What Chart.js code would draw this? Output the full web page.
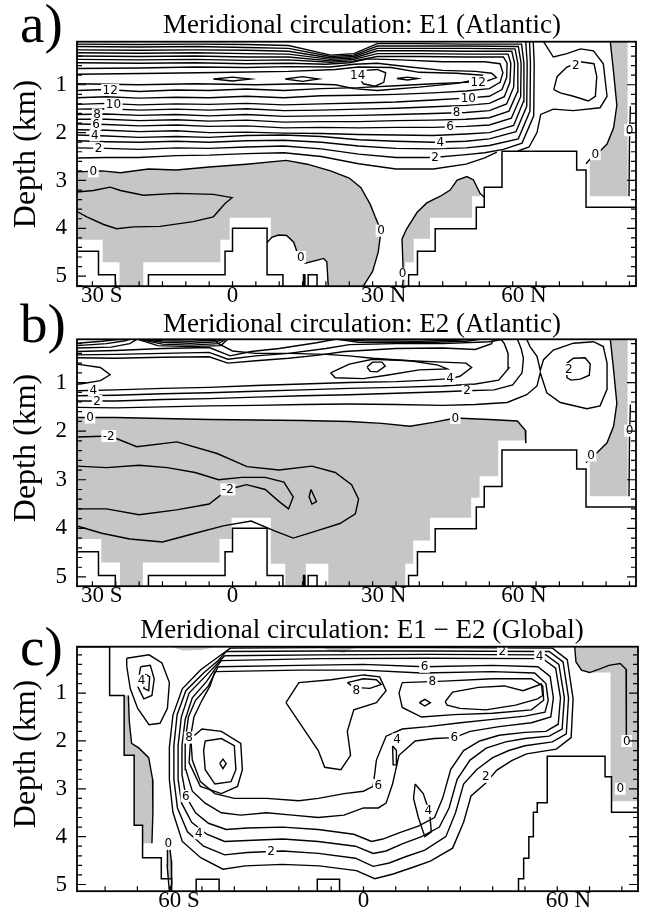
<!DOCTYPE html>
<html>
<head>
<meta charset="utf-8">
<title>Meridional circulation</title>
<script src="https://cdn.jsdelivr.net/npm/chart.js@4.4.1/dist/chart.umd.min.js"></script>
<style>
  html, body { margin: 0; padding: 0; background: #fff; }
  body { position: relative; width: 648px; height: 915px; overflow: hidden; }
  canvas { position: absolute; left: 0; }
</style>
</head>
<body>
<canvas id="panelA" width="648" height="310" style="top:0px"></canvas>
<canvas id="panelB" width="648" height="310" style="top:300px"></canvas>
<canvas id="panelC" width="648" height="315" style="top:600px"></canvas>
<script>
// fonts
const SERIF = '"Liberation Serif", "Times New Roman", serif';
const SANS = '"DejaVu Sans", sans-serif';

// axes / texts
const depthTicks = [1, 2, 3, 4, 5];
const latTicksAtl = [-30, 0, 30, 60];
const latLabelsAtl = [['30', ' S'], ['0', ''], ['30', ' N'], ['60', ' N']];
const latTicksGlo = [-60, 0, 60];
const latLabelsGlo = [['60', ' S'], ['0', ''], ['60', ' N']];
const panelLetters = ['a)', 'b)', 'c)'];
const panelTitles = [
  'Meridional circulation: E1 (Atlantic)',
  'Meridional circulation: E2 (Atlantic)',
  'Meridional circulation: E1 \u2212 E2 (Global)'
];

// ---- bathymetry (lat, depth km) ----
const landAtl = [[-33.3,4.48],[-28.7,4.48],[-28.7,4.97],[-25.1,4.97],[-25.1,5.25],[-18,5.25],[-18,4.97],[-1.6,4.97],[-1.6,4.48],[0,4.48],[0,4.0],[7.4,4.0],[7.4,4.97],[10.8,4.97],[10.8,5.25],[15.2,5.25],[15.2,4.97],[15.5,4.97],[15.5,5.25],[16.2,5.25],[16.2,4.97],[18.1,4.97],[18.1,5.25],[37.7,5.25],[37.7,4.97],[39.6,4.97],[39.6,4.48],[43.4,4.48],[43.4,4.01],[52.2,4.01],[52.2,3.56],[53.9,3.56],[53.9,3.14],[57.7,3.14],[57.7,2.39],[73.7,2.39],[73.7,2.78],[75.7,2.78],[75.7,3.56],[87,3.56],[87,5.25],[-34,5.25],[-34,4.48]];
const landGloW = [[-89,0.03],[-78.6,0.03],[-78.6,1.05],[-74.1,1.05],[-74.1,2.3],[-71,2.3],[-71,3.76],[-68.4,3.76],[-68.4,4.44],[-62.6,4.44],[-62.6,4.88],[-59.4,4.88],[-59.4,5.2],[-89,5.2],[-89,0.03]];
const landGloE = [[48.0,5.2],[48.0,4.88],[49.6,4.88],[49.6,4.45],[51.2,4.45],[51.2,4.0],[52.6,4.0],[52.6,3.49],[53.8,3.49],[53.8,3.29],[56.9,3.29],[56.9,2.32],[74.8,2.32],[74.8,2.75],[76.8,2.75],[76.8,3.49],[86,3.49],[86,5.2]];
const landGloB1 = [[-51.8,5.2],[-51.8,4.89],[-44.7,4.89],[-44.7,5.2]];
const landGloB2 = [[-14.3,5.2],[-14.3,4.89],[-7.4,4.89],[-7.4,5.2]];

// ---- panel a: E1 Atlantic ----
const grayA1 = [[-33.3,2.82],[-28,2.8],[-24,2.84],[-18,2.76],[-12,2.78],[-5,2.72],[3,2.66],[11.5,2.58],[16,2.66],[21,2.8],[25,2.95],[27.5,3.15],[29.5,3.5],[30.5,3.75],[31.8,4.05],[31.2,4.5],[30,4.9],[28,5.21],[20.5,5.21],[20.2,4.7],[19.5,4.63],[18.4,4.66],[15.6,4.73],[14.4,4.63],[13.8,4.49],[13.1,4.29],[11.6,4.15],[9.9,4.14],[8.4,4.19],[8.2,4.19],[8.2,3.78],[-0.6,3.78],[-0.6,4.24],[-2.6,4.24],[-2.6,4.71],[-19.1,4.71],[-19.1,5.21],[-24.2,5.21],[-24.2,4.71],[-27.8,4.71],[-27.8,4.24],[-33.3,4.24]];
const grayA2 = [[36.4,5.21],[36.6,5.04],[36.3,4.22],[37.3,4.01],[39.5,3.67],[41.6,3.47],[44.5,3.33],[46.6,3.2],[48.1,2.99],[50.2,2.92],[51.6,2.99],[53.0,3.27],[53.0,3.33],[51.3,3.33],[51.3,3.78],[42.3,3.78],[42.3,4.22],[38.8,4.22],[38.8,4.71],[37.0,4.71],[37.0,5.21]];
const grayA3 = [[80.9,0.1],[81.6,0.74],[82.3,1.43],[81.6,1.9],[80.2,2.24],[78.0,2.45],[76.6,2.55],[76.5,2.55],[76.5,3.33],[84.6,3.33],[84.6,0.1]];

const a14 = [[26.8,0.8],[28.5,0.7],[31,0.68],[32.8,0.75],[32.4,0.95],[30.5,1.03],[28,0.98],[26.8,0.8]];
const aLens1 = [[-4.1,0.88],[0,0.84],[3.8,0.88],[0,0.92],[-4.1,0.88]];
const aLens2 = [[11.3,0.88],[15,0.83],[18.4,0.88],[15,0.93],[11.3,0.88]];
const aLens3 = [[35.2,0.87],[37.5,0.84],[39.6,0.87],[37.5,0.9],[35.2,0.87]];
const a13 = [[-33.3,0.98],[-20,1.0],[-8,0.98],[5,1.0],[15,0.98],[22,1.0],[26,1.08],[31,1.12],[40,1.05],[48,0.97],[53,0.88],[53.5,0.8],[48,0.76],[40,0.74],[34,0.64],[27,0.63],[22,0.68],[12,0.72],[0,0.74],[-15,0.76],[-33.3,0.78]];
const a12 = [[-33.3,1.12],[-27,1.10],[-20,1.14],[-12,1.11],[-5,1.12],[3,1.09],[11,1.12],[19,1.08],[27,1.06],[35,1.02],[43,0.98],[50,0.95],[54.5,0.92],[56.5,0.85],[55.5,0.76],[52,0.72],[45,0.7],[38,0.63],[31,0.55],[26,0.57],[21,0.63],[12,0.62],[3,0.64],[-8,0.63],[-20,0.65],[-33.3,0.66]];
const a11 = [[-33.3,1.27],[-27,1.25],[-20,1.28],[-12,1.26],[-5,1.27],[3,1.24],[11,1.27],[19,1.23],[27,1.22],[35,1.2],[43,1.17],[50,1.13],[55,1.08],[57.3,0.95],[57.9,0.75],[57.3,0.56],[54,0.52],[45,0.52],[36,0.48],[29,0.46],[25,0.54],[20,0.57],[12,0.55],[3,0.56],[-8,0.54],[-20,0.55],[-33.3,0.54]];
const a10 = [[-33.3,1.41],[-27,1.39],[-20,1.42],[-12,1.40],[-5,1.41],[3,1.39],[11,1.42],[19,1.40],[27,1.38],[35,1.36],[43,1.32],[50,1.28],[55,1.24],[57.7,1.1],[58.7,0.85],[58.8,0.55],[58,0.42],[50,0.42],[40,0.41],[31,0.41],[26,0.5],[21,0.53],[12,0.48],[3,0.49],[-8,0.47],[-20,0.48],[-33.3,0.47]];
const a9 = [[-33.3,1.51],[-27,1.50],[-20,1.53],[-12,1.51],[-5,1.53],[3,1.50],[11,1.54],[19,1.53],[27,1.51],[35,1.49],[43,1.46],[50,1.43],[55,1.39],[58.2,1.25],[59.4,0.95],[59.6,0.55],[59,0.36],[50,0.36],[40,0.35],[31,0.35],[26,0.47],[21,0.5],[12,0.42],[3,0.42],[-8,0.40],[-20,0.41],[-33.3,0.40]];
const a8 = [[-33.3,1.62],[-27,1.61],[-20,1.64],[-12,1.62],[-5,1.65],[3,1.62],[11,1.66],[19,1.65],[27,1.64],[35,1.62],[43,1.6],[50,1.58],[55,1.54],[58.7,1.4],[60.2,1.05],[60.4,0.55],[59.8,0.3],[50,0.3],[40,0.29],[31,0.29],[26,0.44],[21,0.47],[12,0.36],[3,0.35],[-8,0.33],[-20,0.34],[-33.3,0.33]];
const a7 = [[-33.3,1.72],[-27,1.72],[-20,1.75],[-12,1.73],[-5,1.76],[3,1.74],[11,1.78],[19,1.77],[27,1.77],[35,1.75],[43,1.74],[50,1.72],[55,1.69],[59.2,1.55],[61,1.15],[61.1,0.55],[60.5,0.25],[50,0.24],[40,0.24],[31,0.24],[26,0.41],[21,0.44],[12,0.3],[3,0.28],[-8,0.27],[-20,0.28],[-33.3,0.27]];
const a6 = [[-33.3,1.82],[-27,1.83],[-20,1.86],[-12,1.84],[-5,1.87],[3,1.86],[11,1.9],[19,1.89],[27,1.9],[35,1.89],[43,1.89],[50,1.87],[55,1.84],[59.7,1.7],[61.7,1.25],[61.8,0.55],[61.2,0.2],[50,0.19],[40,0.19],[31,0.19],[26,0.38],[21,0.41],[12,0.24],[3,0.22],[-8,0.2],[-20,0.21],[-33.3,0.2]];
const a5 = [[-33.3,1.94],[-27,1.95],[-20,1.98],[-12,1.96],[-5,2.0],[3,1.99],[11,2.01],[19,2.02],[27,2.04],[35,2.05],[43,2.06],[50,2.03],[55,2.0],[60.2,1.85],[62.3,1.35],[62.4,0.55],[61.9,0.15],[50,0.15],[40,0.14],[31,0.14],[26,0.35],[21,0.38],[12,0.18],[3,0.16],[-8,0.15],[-20,0.16],[-33.3,0.15]];
const a4 = [[-33.3,2.05],[-27,2.07],[-20,2.1],[-12,2.08],[-5,2.1],[3,2.06],[11,2.05],[19,2.08],[27,2.15],[35,2.18],[43,2.2],[50,2.18],[55,2.13],[60.7,1.98],[63,1.45],[63.1,0.55],[62.8,0.1]];
const a3 = [[-33.3,2.17],[-27,2.19],[-20,2.2],[-12,2.18],[-5,2.2],[3,2.17],[11,2.16],[19,2.2],[27,2.28],[35,2.33],[43,2.34],[50,2.32],[55,2.27],[61.2,2.13],[63.7,1.55],[63.8,0.55],[63.6,0.1]];
const a2 = [[-33.3,2.32],[-27,2.33],[-20,2.35],[-12,2.32],[-5,2.33],[3,2.3],[11,2.28],[19,2.34],[27,2.45],[35,2.52],[43,2.52],[50,2.46],[54,2.42],[58,2.35],[62,2.22],[64.5,1.65],[64.6,0.55],[64.4,0.1]];
const a1 = [[-33.3,2.53],[-27,2.52],[-20,2.52],[-12,2.48],[-5,2.47],[3,2.44],[11,2.42],[19,2.5],[27,2.65],[35,2.76],[43,2.76],[50,2.66],[54,2.53],[56.6,2.41]];
const a1b = [[66.6,0.1],[68.7,0.42],[71.6,0.35],[74.5,0.25],[77.3,0.29],[79.4,0.56],[80.2,1.24],[78.7,1.48],[73,1.54],[68.7,1.51],[66,1.62],[65.2,2.0],[63.5,2.3],[61,2.39]];
const a2loop = [[68.8,1.10],[69.5,0.83],[71.6,0.63],[74.5,0.52],[77.4,0.56],[78.0,0.83],[77.7,1.24],[76.2,1.34],[73.0,1.24],[70.2,1.17],[68.8,1.10]];
const a0main = [[-33.3,2.82],[-28,2.8],[-24,2.84],[-18,2.76],[-12,2.78],[-5,2.72],[3,2.66],[11.5,2.58],[16,2.66],[21,2.8],[25,2.95],[27.5,3.15],[29.5,3.5],[30.5,3.75],[31.8,4.05],[31.2,4.5],[30,4.9],[28,5.21]];
const a0hollow = [[20.5,5.21],[20.2,4.7],[19.5,4.63],[18.4,4.66],[15.6,4.73],[14.4,4.63],[13.8,4.49],[13.1,4.29],[11.6,4.15],[9.9,4.14],[8.4,4.19],[7.4,4.3]];
const a0east = [[36.4,5.21],[36.6,5.04],[36.3,4.22],[37.3,4.01],[39.5,3.67],[41.6,3.47],[44.5,3.33],[46.6,3.2],[48.1,2.99],[50.2,2.92],[51.6,2.99],[53.0,3.27],[53.9,3.35]];
const a0strip = [[80.9,0.1],[81.6,0.74],[82.3,1.43],[81.6,1.9],[80.2,2.24],[78.0,2.45],[76.6,2.55],[75.7,2.65]];
const a0edge = [[85.2,1.45],[85.0,2.2],[84.9,3.33]];
const a0inner = [[-33.3,3.24],[-29.8,3.21],[-26.2,3.14],[-24.0,3.21],[-19.1,3.31],[-11.9,3.27],[-4.1,3.29],[-0.1,3.36],[-1.6,3.48],[-4.1,3.76],[-8.4,3.86],[-15.5,3.96],[-21.2,3.97],[-24.8,4.01],[-27.6,3.92],[-31.2,3.76],[-33.3,3.65]];
const labelsA = [[-26.2,1.11,'12'],[-25.5,1.41,'10'],[-29,1.62,'8'],[-29.2,1.83,'6'],[-29.5,2.06,'4'],[-28.7,2.33,'2'],[-29.8,2.81,'0'],[52.6,0.94,'12'],[50.5,1.28,'10'],[48,1.58,'8'],[46.6,1.88,'6'],[44.5,2.2,'4'],[43.4,2.51,'2'],[26.8,0.8,'14'],[73.5,0.6,'2'],[77.7,2.45,'0'],[85.0,1.95,'0'],[31.8,4.05,'0'],[14.6,4.6,'0'],[36.4,4.95,'0']];

// ---- panel b: E2 Atlantic ----
const grayB1 = [[-33.3,1.72],[-25,1.72],[-15,1.74],[-5,1.76],[5,1.77],[15,1.78],[25,1.8],[32,1.84],[38,1.9],[43,1.82],[47.7,1.73],[55,1.76],[61,1.79],[62.7,1.98],[62.8,2.19],[56.9,2.19],[56.9,2.93],[52.9,2.93],[52.9,3.37],[51.1,3.37],[51.1,3.78],[42.3,3.78],[42.3,4.25],[38.7,4.25],[38.7,4.73],[37.0,4.73],[37.0,5.2],[20.5,5.2],[20.5,4.73],[15.7,4.73],[15.7,5.2],[11.3,5.2],[11.3,4.73],[8.2,4.73],[8.2,3.78],[-0.2,3.78],[-0.2,4.22],[-2.8,4.22],[-2.8,4.7],[-19.2,4.7],[-19.2,5.2],[-24.1,5.2],[-24.1,4.7],[-28.1,4.7],[-28.1,4.22],[-33.3,4.22]];
const grayB2 = [[80.9,0.11],[81.6,0.74],[82.3,1.43],[81.6,1.9],[80.2,2.24],[78.0,2.45],[76.6,2.55],[76.5,2.55],[76.5,3.34],[84.6,3.34],[84.6,0.11]];
const b0main = [[-33.3,1.72],[-25,1.72],[-15,1.74],[-5,1.76],[5,1.77],[15,1.78],[25,1.8],[32,1.84],[38,1.9],[43,1.82],[47.7,1.73],[55,1.76],[61,1.79],[62.7,1.98],[62.8,2.25]];
const b0strip = [[80.9,0.11],[81.6,0.74],[82.3,1.43],[81.6,1.9],[80.2,2.24],[78.0,2.45],[76.6,2.55],[75.7,2.65]];
const b0edge = [[85.2,1.45],[85.0,2.2],[84.9,3.34]];
const b1 = [[-33.3,1.51],[-25,1.52],[-15,1.5],[-5,1.48],[5,1.47],[15,1.45],[25,1.44],[35,1.45],[45,1.47],[52,1.45],[58.8,1.41],[63,1.25],[65.2,1.07],[65.9,0.8],[67.3,1.21],[70.2,1.41],[75.9,1.54],[78.7,1.48],[80.2,1.14],[80.2,0.6],[79.4,0.26],[77.3,0.16],[73,0.19],[68.7,0.33],[66.6,0.53],[65.9,0.75],[65.2,0.46],[63.7,0.26],[63,0.11]];
const b2 = [[-33.3,1.38],[-25,1.38],[-15,1.35],[-5,1.33],[5,1.3],[15,1.27],[25,1.25],[35,1.22],[45,1.19],[50.2,1.17],[56,1.15],[60,1.05],[62,0.8],[62.3,0.5],[61.8,0.3],[61,0.11]];
const b3 = [[-33.3,1.27],[-25,1.26],[-15,1.23],[-5,1.21],[5,1.18],[15,1.15],[25,1.12],[35,1.1],[45,1.07],[52,1.03],[57,0.95],[59.2,0.7],[59,0.4],[58.2,0.2],[57.5,0.11]];
const b4 = [[-33.3,1.17],[-25,1.15],[-15,1.12],[-5,1.1],[5,1.06],[15,1.03],[25,1.0],[35,0.98],[42,0.95],[46.6,0.92],[48.7,0.87],[51.2,0.69],[50,0.6],[45,0.58],[38,0.55],[30,0.5],[25,0.45],[20,0.42],[12,0.4],[5,0.4],[0,0.35],[-3,0.2],[-4,0.11]];
const b5left = [[-33.3,0.62],[-28.3,0.69],[-26.2,0.84],[-28.3,0.96],[-32.6,1.03],[-33.3,1.03]];
const b5mid = [[21,0.8],[25,0.62],[30,0.52],[38,0.55],[44,0.64],[46,0.72],[40,0.74],[33,0.85],[28,0.92],[22,0.9],[21,0.8]];
const b6mid = [[28.8,0.68],[30,0.58],[32,0.58],[32.7,0.66],[31,0.78],[29.5,0.77],[28.8,0.68]];
const b2loop = [[71.6,0.9],[71.6,0.6],[73,0.5],[75.5,0.49],[76.6,0.62],[76.4,0.85],[74.5,0.93],[72.5,0.95],[71.6,0.9]];
const bt1 = [[-33.3,0.19],[-28,0.15],[-24,0.11]];
const bt2 = [[-33.3,0.24],[-27,0.2],[-23,0.14],[-22,0.11]];
const bt3 = [[-33.3,0.29],[-26,0.27],[-22,0.2],[-20.5,0.11]];
const bt4 = [[-33.3,0.36],[-25,0.34],[-15,0.3],[-5,0.28],[-0.5,0.45],[4,0.36],[10,0.3],[18,0.18],[22,0.11]];
const bt5 = [[-33.3,0.43],[-25,0.42],[-15,0.4],[-5,0.38],[-1,0.52],[5,0.45],[12,0.4],[20,0.3],[25,0.22],[35,0.2],[45,0.2],[55,0.16],[58,0.11]];
const bt6 = [[-33.3,0.49],[-25,0.5],[-15,0.48],[-5,0.47],[-1,0.6],[5,0.55],[12,0.5],[18,0.44],[24,0.36],[35,0.3],[45,0.29],[52,0.32],[55.5,0.2],[55.8,0.11]];
const bArc1 = [[-19,0.11],[-15,0.14],[-9,0.15],[-4,0.13],[-2.5,0.11]];
const bArc2 = [[-19.5,0.11],[-15,0.17],[-9,0.19],[-3.5,0.16],[-2,0.11]];
const bArc3 = [[-20,0.11],[-15,0.21],[-9,0.23],[-3,0.2],[-1.5,0.11]];
const bArc4 = [[-20.3,0.11],[-16,0.24],[-9,0.26],[-2.5,0.24],[-1,0.11]];
const bArc5 = [[23,0.11],[28,0.14],[40,0.15],[48,0.13],[51,0.11]];
const bArc6 = [[22.5,0.11],[27,0.17],[40,0.18],[50,0.15],[53,0.11]];
const bm2a = [[-33.3,2.12],[-26.2,2.1],[-20.5,2.32],[-11.9,2.22],[-3.3,2.46],[3.1,2.73],[10,2.8],[17,2.72],[22,2.85],[25.5,3.1],[27,3.4],[26.3,3.7],[23,3.9],[18,4.05],[13,4.2],[9,4.05],[4,3.85],[-2,3.95],[-8,4.1],[-15,4.28],[-22,4.22],[-28,4.1],[-33.3,3.95]];
const bm2b = [[-33.3,3.6],[-27,3.6],[-20,3.72],[-12,3.62],[-5,3.5],[-1,3.2],[3,3.1],[7,3.2],[10,3.45],[12,3.6],[13,3.35],[11,3.05],[7,2.95],[2,2.95],[-3,3.0],[-8,2.85],[-14,2.75],[-20,2.7],[-27,2.75],[-33.3,2.72]];
const bm3 = [[16.8,3.2],[18,3.45],[17,3.5],[16.4,3.35],[16.8,3.2]];
const labelsB = [[-29.8,1.16,'4'],[-29,1.38,'2'],[-30.5,1.72,'0'],[-26.5,2.1,'-2'],[46.6,0.92,'4'],[50.2,1.17,'2'],[47.7,1.73,'0'],[72,0.72,'2'],[76.8,2.5,'0'],[85,1.99,'0'],[-1,3.2,'-2']];

// ---- panel c: E1 - E2 Global ----
const grayC1 = [[-74.1,1.05],[-72.8,1.05],[-72.5,1.6],[-71.8,2.05],[-69.5,2.15],[-66.5,2.35],[-65.3,2.8],[-65.2,3.5],[-65.5,4.14],[-68.4,4.14],[-68.4,3.76],[-71,3.76],[-71,2.3],[-74.1,2.3]];
const grayC2 = [[65.4,0.03],[65.8,0.35],[67.5,0.52],[70,0.57],[76.5,0.57],[76.5,3.26],[85.2,3.26],[85.2,0.03]];
const grayC3 = [[-60.2,4.1],[-59.5,4.5],[-59.4,5.0],[-60.1,5.14],[-60.8,4.6],[-60.7,4.2]];
const grayC4 = [[-59.6,0.03],[-45.8,0.03],[-50,0.1],[-56,0.11]];
const grayC5 = [[-13.7,0.03],[-2.2,0.03],[-6,0.16],[-10,0.12]];
const c1 = [[-41.2,0.06],[-13.7,0.05],[20.7,0.05],[58.5,0.06],[63.1,0.3],[64.9,1.12],[64.3,1.93],[59.7,2.17],[50.5,2.27],[45.9,2.41],[41.3,2.61],[37.9,2.88],[33.3,3.15],[31.0,3.7],[27.6,4.24],[20.7,4.51],[14.9,4.65],[9.2,4.78],[3.5,4.88],[-2.2,4.71],[-13.7,4.61],[-25.2,4.58],[-36.6,4.61],[-43.5,4.68],[-50.4,4.44],[-56.1,4.1],[-59.0,3.49],[-60.1,2.81],[-60.1,2.13],[-59.0,1.46],[-56.1,0.91],[-50.4,0.51],[-44.7,0.23],[-41.2,0.06]];
const c2 = [[-42.5,0.13],[-13.7,0.12],[20.7,0.12],[57.5,0.13],[61.8,0.35],[63.5,1.1],[62.8,1.85],[58.5,2.02],[50,2.1],[45,2.2],[40,2.35],[35,2.6],[31,2.9],[28.5,3.5],[25.5,4.0],[19,4.28],[13,4.42],[8,4.55],[3,4.62],[-2.5,4.45],[-14,4.35],[-25,4.3],[-36,4.33],[-43,4.38],[-49.5,4.2],[-54.5,3.9],[-57.6,3.4],[-58.7,2.8],[-58.7,2.1],[-57.7,1.45],[-55,0.95],[-49.5,0.58],[-45,0.32],[-42.5,0.13]];
const c3 = [[-43,0.22],[-13.7,0.2],[20.7,0.19],[56.5,0.2],[60.5,0.4],[62.2,1.1],[61.5,1.75],[57.5,1.9],[50,1.95],[44,2.02],[38,2.15],[33,2.4],[29,2.8],[26.5,3.4],[23.5,3.8],[18,4.0],[12,4.15],[7,4.3],[3,4.35],[-2.5,4.2],[-14,4.1],[-25,4.05],[-36,4.08],[-43,4.1],[-48.5,3.95],[-53.2,3.7],[-56.3,3.3],[-57.4,2.8],[-57.4,2.1],[-56.4,1.5],[-54,1.0],[-49,0.65],[-45.5,0.4],[-43,0.22]];
const c4 = [[-44,0.32],[-13.7,0.28],[18.9,0.27],[55.5,0.28],[59.5,0.48],[61,1.1],[60.3,1.65],[56.5,1.8],[50,1.82],[42,1.88],[36,2.0],[31,2.2],[27,2.6],[24.5,3.2],[22,3.6],[17,3.78],[11,3.92],[6,4.05],[2.5,4.1],[-3,3.95],[-14,3.85],[-25,3.8],[-36,3.82],[-42.5,3.85],[-48,3.72],[-52,3.5],[-55,3.15],[-56.2,2.7],[-56.2,2.1],[-55.2,1.55],[-53,1.1],[-48.5,0.75],[-46,0.5],[-44,0.32]];
const c5 = [[-45,0.45],[-20,0.42],[0,0.4],[18.9,0.45],[40,0.42],[54,0.45],[57.8,0.65],[58.8,1.1],[58,1.5],[52,1.62],[42,1.7],[33,1.8],[28.1,1.93],[22,1.95],[16,2.0],[11,2.3],[9,2.9],[7,3.3],[4.6,3.4],[0,3.4],[-6,3.55],[-14,3.6],[-22,3.55],[-30,3.5],[-38,3.55],[-44,3.5],[-49,3.3],[-53,3.05],[-55,2.6],[-55.2,2.0],[-54.2,1.5],[-52,1.15],[-48,0.85],[-45,0.45]];
const c6 = [[-46,0.55],[-20,0.52],[0,0.52],[18,0.58],[40,0.55],[53,0.58],[56.5,0.8],[57.2,1.15],[56.2,1.4],[50,1.48],[40,1.55],[30,1.62],[20,1.7],[12,1.75],[7,1.9],[4,2.4],[3,2.95],[0,3.05],[-6,3.1],[-14,3.2],[-20,3.25],[-30,3.2],[-40,3.2],[-46,3.1],[-50.5,2.85],[-53,2.4],[-53.5,1.9],[-52.5,1.5],[-50,1.15],[-47.5,0.85],[-46,0.55]];
const c8left = [[-53.5,1.95],[-50,1.75],[-44,1.8],[-38,2.05],[-37.5,2.6],[-39,2.95],[-44,3.1],[-50.5,2.95],[-54,2.45],[-53.5,1.95]];
const c9left = [[-49,2.0],[-44,1.95],[-40,2.1],[-39.5,2.6],[-41,2.85],[-46,2.9],[-49,2.6],[-49.5,2.2],[-49,2.0]];
const cDot = [[-44.5,2.47],[-43.5,2.38],[-42.5,2.47],[-43.5,2.58],[-44.5,2.47]];
const c8mid = [[-5,0.78],[0,0.7],[4,0.72],[5.5,0.82],[2,0.9],[-3,0.88],[-5,0.78]];
const cMid = [[-24,1.2],[-20,0.78],[-10,0.72],[0,0.62],[5,0.66],[7,0.95],[4,1.2],[-3,1.35],[-5,1.8],[-4,2.3],[-7,2.6],[-12,2.55],[-14,2.2],[-18,1.8],[-24,1.2]];
const c8right = [[12,0.78],[25,0.75],[40,0.7],[52,0.7],[55.5,0.85],[55.8,1.15],[52,1.35],[40,1.42],[28,1.45],[18,1.5],[12,1.3],[11,1.0],[12,0.78]];
const c9right = [[25.3,1.18],[27.6,0.98],[35.6,0.88],[43.6,0.85],[49.4,0.95],[55.1,0.81],[55.5,1.05],[53.9,1.12],[47.1,1.25],[37.9,1.35],[29.9,1.32],[25.9,1.25],[25.3,1.18]];
const cSmall1 = [[17.3,1.2],[19,1.13],[20.7,1.2],[19,1.27],[17.3,1.2]];
const cSmall2 = [[9.0,2.1],[10.2,2.2],[10.2,2.5],[9.2,2.5],[9.0,2.1]];
const cLens4 = [[16,2.9],[18.5,3.1],[20.5,3.5],[21,3.9],[19,4.0],[17,3.6],[15.5,3.2],[16,2.9]];
const cL1 = [[-73.3,0.27],[-66.4,0.2],[-62.4,0.37],[-60.1,0.78],[-60.7,1.32],[-63,1.63],[-66.4,1.66],[-69.9,1.32],[-72.2,0.91],[-73.3,0.44],[-73.3,0.27]];
const cL2 = [[-69,0.45],[-66,0.42],[-64.8,0.7],[-65.5,1.05],[-68,1.12],[-70,0.85],[-69,0.45]];
const cL3 = [[-67.5,0.6],[-66.2,0.66],[-66.5,0.95],[-68,0.9],[-67.5,0.6]];
const c0left = [[-72.8,1.05],[-72.5,1.6],[-71.8,2.05],[-69.5,2.15],[-66.5,2.35],[-65.3,2.8],[-65.2,3.5],[-65.5,4.14]];
const c0right = [[65.4,0.03],[65.8,0.35],[67.5,0.52],[70,0.57],[73,0.5],[76,0.42],[79.5,0.38],[81.3,0.5],[81.5,1.2],[81.3,2.0]];
const c0lens = [[-60.2,4.1],[-59.5,4.5],[-59.4,5.0],[-60.1,5.14],[-60.8,4.6],[-60.7,4.2],[-60.2,4.1]];
const labelsC = [[-28.6,4.3,'2'],[-51,3.93,'4'],[-55,3.15,'6'],[-54,1.93,'8'],[28.1,1.93,'6'],[21.3,0.76,'8'],[18.9,0.45,'6'],[54.5,0.23,'4'],[43,0.12,'2'],[37.9,2.75,'2'],[20.1,3.46,'4'],[10.4,1.97,'4'],[4.6,2.92,'6'],[-2.2,0.95,'8'],[-68.7,0.74,'4'],[-60.4,4.15,'0'],[81.5,2.0,'0'],[79.5,3.0,'0']];

// -------- drawing --------
const xy = pts => pts.map(([x, y]) => ({x, y}));

const grayPatch = pts => ({data: xy(pts), showLine: true, borderColor: 'rgba(0,0,0,0)', borderWidth: 1, pointRadius: 0, backgroundColor: '#c6c6c6', fill: 'shape', order: 3});
const landPatch = pts => ({data: xy(pts), showLine: true, borderColor: '#000', borderWidth: 1.5, pointRadius: 0, backgroundColor: '#fff', fill: 'shape', order: 2});
const contour = pts => ({data: xy(pts), showLine: true, borderColor: '#000', borderWidth: 1.4, pointRadius: 0, fill: false, order: 1});

const decor = {
  id: 'decor',
  afterDatasetsDraw(chart, args, o) {
    const {ctx, scales: {x, y}} = chart;
    ctx.save();
    ctx.font = '12px ' + SANS;
    ctx.textAlign = 'center';
    ctx.textBaseline = 'middle';
    o.labels.forEach(([lat, d, t]) => {
      const px = x.getPixelForValue(lat), py = y.getPixelForValue(d);
      const w = ctx.measureText(t).width;
      ctx.fillStyle = '#fff';
      ctx.fillRect(px - w / 2 - 1.5, py - 6, w + 3, 12);
      ctx.fillStyle = '#000';
      ctx.fillText(t, px, py + 0.5);
    });
    ctx.restore();
  },
  afterDraw(chart, args, o) {
    const {ctx, chartArea: a, scales: {x, y}} = chart;
    ctx.save();
    ctx.strokeStyle = '#000';
    ctx.lineWidth = 1.8;
    ctx.strokeRect(a.left, a.top, a.right - a.left, a.bottom - a.top);
    // inward ticks
    ctx.lineWidth = 1.2;
    ctx.beginPath();
    for (let v = 0.2; v <= y.max + 1e-6; v += 0.2) {
      if (v < y.min) continue;
      const py = y.getPixelForValue(v);
      const major = Math.abs(v - Math.round(v)) < 1e-6;
      const len = major ? 9 : 5;
      ctx.moveTo(a.left, py); ctx.lineTo(a.left + len, py);
      ctx.moveTo(a.right, py); ctx.lineTo(a.right - len, py);
    }
    for (let v = -90; v <= 90; v += o.xStep) {
      if (v <= x.min || v >= x.max) continue;
      const px = x.getPixelForValue(v);
      ctx.moveTo(px, a.bottom); ctx.lineTo(px, a.bottom - 5);
    }
    ctx.stroke();
    // latitude labels: number centred on tick, hemisphere letter trailing
    ctx.fillStyle = '#000';
    ctx.font = '23px ' + SERIF;
    ctx.textAlign = 'left';
    ctx.textBaseline = 'alphabetic';
    o.xTicks.forEach((v, i) => {
      const [num, suf] = o.xLabels[i];
      const px = x.getPixelForValue(v);
      const w = ctx.measureText(num).width;
      ctx.fillText(num + suf, px - w / 2, a.bottom + 15.5);
    });
    // title and panel letter
    ctx.font = '27px ' + SERIF;
    ctx.textAlign = 'center';
    ctx.fillText(o.title, 362, o.titleY);
    ctx.font = '55px ' + SERIF;
    ctx.textAlign = 'left';
    ctx.fillText(o.letter, 20, o.letterY);
    // axis title
    ctx.translate(27, o.depthY);
    ctx.rotate(-Math.PI / 2);
    ctx.font = '32px ' + SERIF;
    ctx.textAlign = 'center';
    ctx.textBaseline = 'middle';
    ctx.fillText('Depth (km)', 0, 0);
    ctx.restore();
  }
};

function makePanel(id, p) {
  const datasets = [
    ...p.gray.map(grayPatch),
    ...p.land.map(landPatch),
    ...p.lines.map(contour)
  ];
  return new Chart(document.getElementById(id), {
    type: 'scatter',
    data: {datasets},
    plugins: [decor],
    options: {
      responsive: false,
      animation: false,
      events: [],
      layout: {padding: {top: p.top, right: 648 - p.right, left: 0, bottom: 0}},
      scales: {
        x: {
          type: 'linear', min: p.xMin, max: p.xMax,
          grid: {display: false, drawTicks: false}, border: {display: false},
          ticks: {display: false},
          afterFit: s => { s.height = p.canvasH - p.bottom; }
        },
        y: {
          type: 'linear', reverse: true, min: p.yMin, max: p.yMax,
          grid: {display: false, drawTicks: false}, border: {display: false},
          ticks: {color: '#000', font: {family: SERIF, size: 23}, padding: 10},
          afterBuildTicks: s => { s.ticks = depthTicks.map(v => ({value: v})); },
          afterFit: s => { s.width = 77; }
        }
      },
      plugins: {
        legend: {display: false},
        tooltip: {enabled: false},
        decor: {
          labels: p.labels, xTicks: p.xTicks, xLabels: p.xLabels, xStep: p.xStep,
          title: p.title, titleY: p.titleY, letter: p.letter, letterY: p.letterY, depthY: p.depthY
        }
      }
    }
  });
}

makePanel('panelA', {
  xMin: -33.3, xMax: 86.4, yMin: 0.1, yMax: 5.21, top: 41.7, bottom: 292, right: 636, canvasH: 310,
  xTicks: latTicksAtl, xLabels: latLabelsAtl, xStep: 5,
  gray: [grayA1, grayA2, grayA3],
  land: [landAtl],
  lines: [a14, aLens1, aLens2, aLens3, a13, a12, a11, a10, a9, a8, a7, a6, a5, a4, a3, a2, a1, a1b, a2loop, a0main, a0hollow, a0east, a0strip, a0edge, a0inner],
  labels: labelsA, title: panelTitles[0], titleY: 33, letter: panelLetters[0], letterY: 42, depthY: 154
});

makePanel('panelB', {
  xMin: -33.3, xMax: 86.4, yMin: 0.11, yMax: 5.19, top: 39.3, bottom: 290, right: 636, canvasH: 310,
  xTicks: latTicksAtl, xLabels: latLabelsAtl, xStep: 5,
  gray: [grayB1, grayB2],
  land: [landAtl],
  lines: [b0main, b0strip, b0edge, b1, b2, b3, b4, b5left, b5mid, b6mid, b2loop, bt1, bt2, bt3, bt4, bt5, bt6, bArc1, bArc2, bArc3, bArc4, bArc5, bArc6, bm2a, bm2b, bm3],
  labels: labelsB, title: panelTitles[1], titleY: 32, letter: panelLetters[1], letterY: 42, depthY: 148
});

makePanel('panelC', {
  xMin: -88.7, xMax: 85.0, yMin: 0.03, yMax: 5.14, top: 46.7, bottom: 297.7, right: 638, canvasH: 315,
  xTicks: latTicksGlo, xLabels: latLabelsGlo, xStep: 10,
  gray: [grayC1, grayC2, grayC3, grayC4, grayC5],
  land: [landGloW, landGloE, landGloB1, landGloB2],
  lines: [c1, c2, c3, c4, c5, c6, c8left, c9left, cDot, c8mid, cMid, c8right, c9right, cSmall1, cSmall2, cLens4, cL1, cL2, cL3, c0left, c0right, c0lens],
  labels: labelsC, title: panelTitles[2], titleY: 38, letter: panelLetters[2], letterY: 65, depthY: 154
});
</script>
</body>
</html>
